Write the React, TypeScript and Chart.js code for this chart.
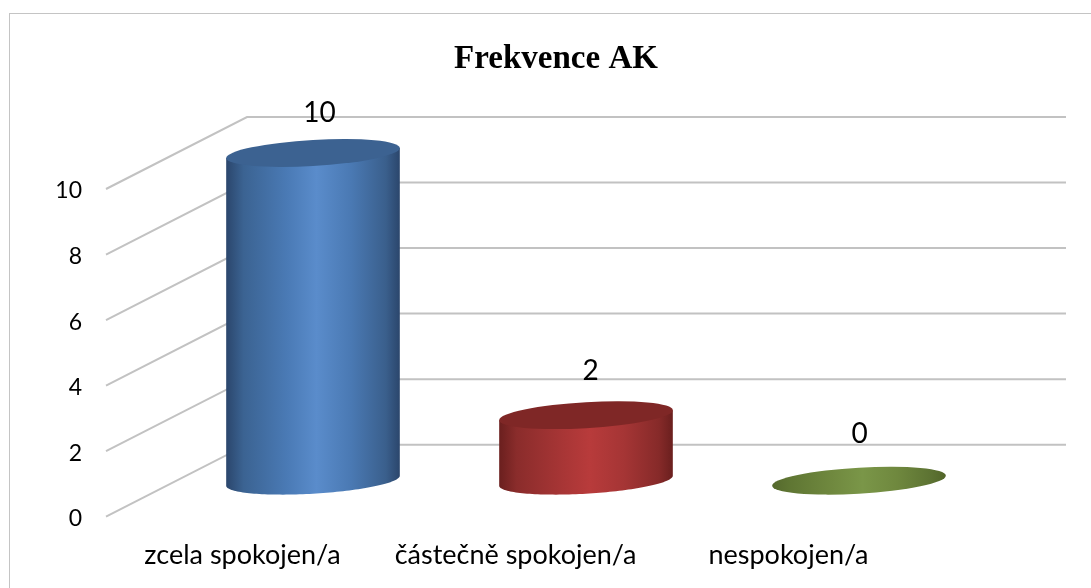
import React, { useEffect, useRef } from "react";
import { Chart, registerables } from "chart.js";

Chart.register(...registerables);

const chartTitle = "Frekvence AK";
const categories = ["zcela spokojen/a", "částečně spokojen/a", "nespokojen/a"];
const frequencies = [10, 2, 0];
const tickStep = 2;
const axisMax = 10;

const WIDTH = 1091;
const HEIGHT = 588;
const AXIS_LEFT = 106;
const AXIS_RIGHT = 925;
const AXIS_TOP = 189;
const AXIS_BOTTOM = 516.7;
const DEPTH_X = 141;
const DEPTH_Y = 72;
const TILT = 5;
const MINOR = 13;
const GRID = "#c2c2c2";
const TITLE_CENTER = 556;
const labelNudge = [
  [6.5, -40],
  [4.5, -44.5],
  [0.5, -47],
];

const palette = [
  { top: "#3c6291", stops: ["#2b466c", "#3b6392", "#4a7ab5", "#5a8ccb", "#4a79b3", "#3a5f8c", "#2b466c"] },
  { top: "#7f2726", stops: ["#6a1f1e", "#8a2c2b", "#a63535", "#b83b3b", "#a53535", "#862a29", "#6a1f1e"] },
  { top: "#6f8a40", stops: ["#55692d", "#5f7633", "#70893f", "#7a9648", "#6f883e", "#5c7232", "#526529"] },
];
const stopAt = [0, 0.1, 0.35, 0.52, 0.72, 0.92, 1];

function bodyGradient(ctx: CanvasRenderingContext2D, left: number, right: number, stops: string[]) {
  const g = ctx.createLinearGradient(left, 0, right, 0);
  stops.forEach((c, i) => g.addColorStop(stopAt[i], c));
  return g;
}

const scene = {
  id: "scene",
  afterLayout(chart: any) {
    const t = chart.titleBlock;
    const half = (t.right - t.left) / 2;
    t.left = TITLE_CENTER - half;
    t.right = TITLE_CENTER + half;
  },
  beforeDatasetsDraw(chart: any) {
    const { ctx, scales } = chart;
    const y = scales.y;
    ctx.save();
    ctx.strokeStyle = GRID;
    ctx.lineWidth = 2;
    for (const tick of y.ticks) {
      const py = y.getPixelForValue(tick.value);
      ctx.beginPath();
      ctx.moveTo(scales.x.left, py);
      ctx.lineTo(scales.x.left + DEPTH_X, py - DEPTH_Y);
      ctx.lineTo(scales.x.right + DEPTH_X, py - DEPTH_Y);
      ctx.stroke();
    }
    const meta = chart.getDatasetMeta(0);
    meta.data.forEach((bar: any, i: number) => {
      const p = palette[i];
      const a = bar.width / 2;
      const cx = bar.x + DEPTH_X / 2;
      const top = bar.y - DEPTH_Y / 2;
      const base = bar.base - DEPTH_Y / 2;
      const shear = TILT / a;
      const left = cx - a;
      const right = cx + a;
      if (frequencies[i] > 0) {
        ctx.beginPath();
        ctx.moveTo(left, top + TILT);
        for (let k = 0; k <= 80; k++) {
          const th = Math.PI - (Math.PI * k) / 80;
          ctx.lineTo(cx + a * Math.cos(th), base + MINOR * Math.sin(th) - TILT * Math.cos(th));
        }
        ctx.lineTo(right, top - TILT);
        ctx.closePath();
        ctx.fillStyle = bodyGradient(ctx, left, right, p.stops);
        ctx.fill();
      }
      ctx.save();
      ctx.transform(1, -shear, 0, 1, cx, top);
      ctx.beginPath();
      ctx.ellipse(0, 0, a, MINOR, 0, 0, Math.PI * 2);
      ctx.restore();
      ctx.fillStyle = frequencies[i] > 0 ? p.top : bodyGradient(ctx, left, right, p.stops);
      ctx.fill();

      ctx.fillStyle = "#000";
      ctx.font = "28px Lato";
      ctx.textAlign = "center";
      ctx.textBaseline = "middle";
      ctx.fillText(String(frequencies[i]), cx + labelNudge[i][0], top + labelNudge[i][1]);
    });
    ctx.restore();
  },
};

export default function App() {
  const ref = useRef<HTMLCanvasElement>(null);
  useEffect(() => {
    document.body.style.margin = "0";
    document.body.style.background = "#fff";
    const chart = new Chart(ref.current!, {
      type: "bar",
      data: {
        labels: categories,
        datasets: [
          {
            label: chartTitle,
            data: frequencies,
            backgroundColor: "rgba(0,0,0,0)",
            borderWidth: 0,
            barPercentage: 0.636,
            categoryPercentage: 1,
          },
        ],
      },
      plugins: [scene],
      options: {
        responsive: false,
        animation: false,
        layout: {
          padding: { left: 56, right: WIDTH - AXIS_RIGHT, top: 41, bottom: HEIGHT - AXIS_BOTTOM - 60 },
        },
        plugins: {
          legend: { display: false },
          tooltip: { enabled: false },
          title: {
            display: true,
            text: chartTitle,
            color: "#000",
            font: { family: "'Liberation Serif'", size: 33, weight: "bold", lineHeight: 1.1 },
            padding: { top: 0, bottom: AXIS_TOP - 41 - 36.3 },
          },
        },
        scales: {
          x: {
            afterFit: (s: any) => {
              s.height = 60;
            },
            grid: { display: false, tickLength: 0 },
            border: { display: false },
            ticks: {
              color: "#000",
              font: { family: "Lato", size: 27 },
              padding: 22,
              maxRotation: 0,
              autoSkip: false,
            },
          },
          y: {
            min: 0,
            max: axisMax,
            afterFit: (s: any) => {
              s.width = AXIS_LEFT - 56;
            },
            grid: { display: false, tickLength: 0 },
            border: { display: false },
            ticks: {
              stepSize: tickStep,
              color: "#000",
              font: { family: "Lato", size: 23 },
              padding: 24,
              labelOffset: 2,
            },
          },
        },
      } as any,
    });
    return () => chart.destroy();
  }, []);
  return (
    <div style={{ position: "relative", width: WIDTH, height: HEIGHT, overflow: "hidden", background: "#fff" }}>
      <div
        style={{
          position: "absolute",
          left: 9,
          top: 13,
          right: -5,
          bottom: -5,
          border: "1.5px solid #c4c4c4",
          boxSizing: "border-box",
        }}
      />
      <canvas ref={ref} width={WIDTH} height={HEIGHT} style={{ display: "block", position: "relative" }} />
    </div>
  );
}
